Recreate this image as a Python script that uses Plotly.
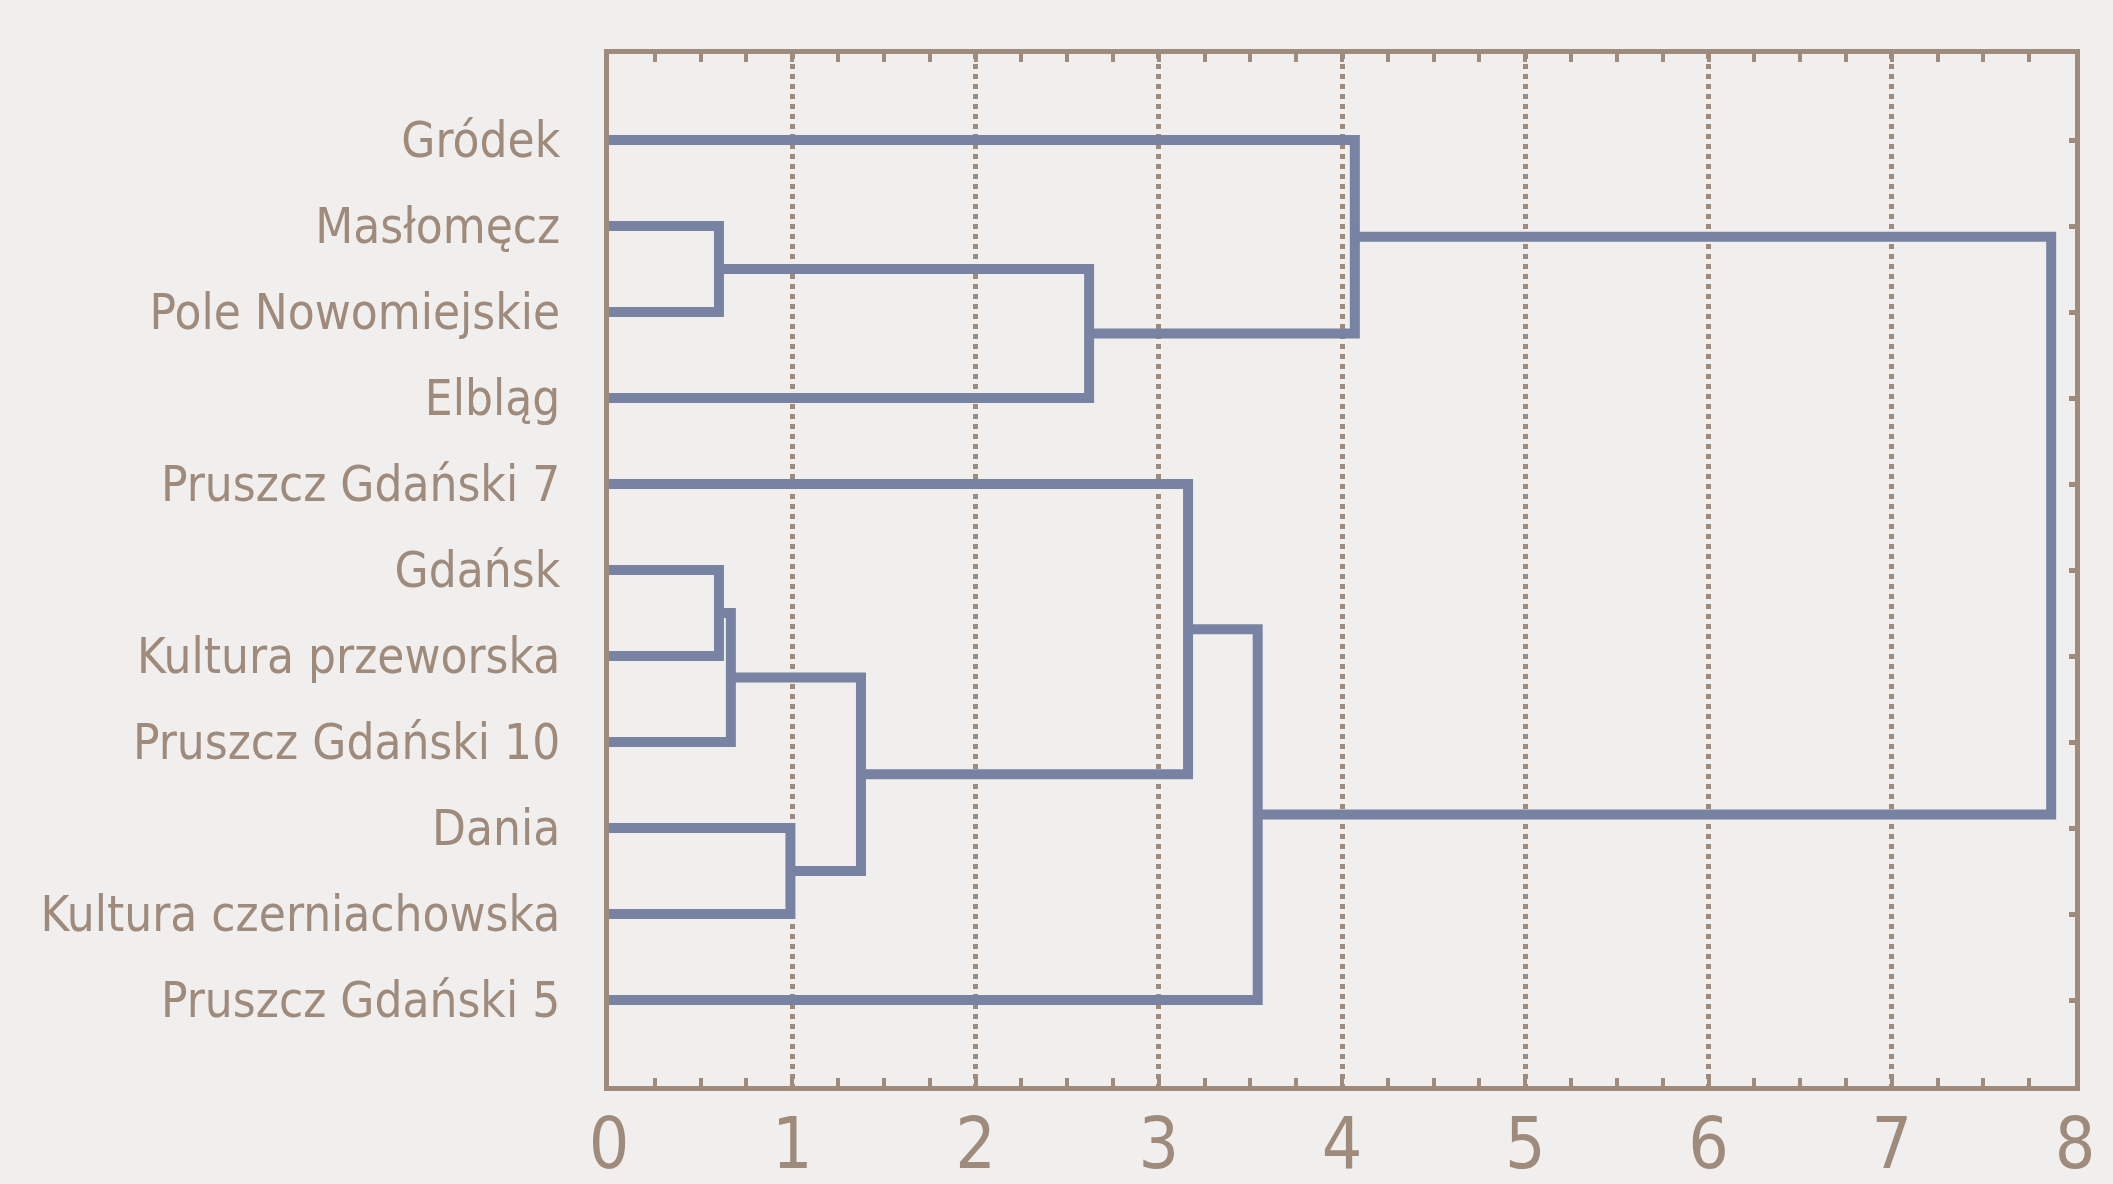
import plotly.graph_objects as go

labels = ["Gródek", "Masłomęcz", "Pole Nowomiejskie", "Elbląg", "Pruszcz Gdański 7",
          "Gdańsk", "Kultura przeworska", "Pruszcz Gdański 10", "Dania",
          "Kultura czerniachowska", "Pruszcz Gdański 5"]

# linkage: cluster ids >= len(labels) refer to earlier merges (scipy style)
merge_a = [1, 5, 12, 8, 13, 11, 4, 17, 0, 19]
merge_b = [2, 6, 7, 9, 14, 3, 15, 10, 16, 18]
merge_h = [0.60, 0.60, 0.665, 0.99, 1.375, 2.62, 3.16, 3.54, 4.07, 7.87]

x_ticks = [0, 1, 2, 3, 4, 5, 6, 7, 8]

BROWN = "#9f8b7c"
BLUE = "#7883a3"
BG = "#f1efed"
FONT = "DejaVu Sans Condensed, Liberation Sans Narrow, sans-serif"

n = len(labels)
pos_y = {i: float(i) for i in range(n)}
pos_h = {i: 0.0 for i in range(n)}
xs, ys = [], []
for k, (a, b, h) in enumerate(zip(merge_a, merge_b, merge_h)):
    xs += [pos_h[a], h, h, pos_h[b], None]
    ys += [pos_y[a], pos_y[a], pos_y[b], pos_y[b], None]
    pos_y[n + k] = (pos_y[a] + pos_y[b]) / 2
    pos_h[n + k] = h

fig = go.Figure()
fig.add_trace(go.Scatter(x=xs, y=ys, mode="lines",
                         line=dict(color=BLUE, width=10),
                         hoverinfo="skip", showlegend=False))
fig.add_trace(go.Scatter(x=[None], y=[None], yaxis="y2", mode="lines",
                         showlegend=False, hoverinfo="skip"))

fig.update_layout(
    width=2113, height=1184,
    margin=dict(l=609, r=38, t=54, b=98, autoexpand=False),
    paper_bgcolor=BG, plot_bgcolor=BG,
    font=dict(family=FONT, color=BROWN),
    xaxis=dict(range=[0, 8], tickvals=x_ticks, ticktext=[str(v) for v in x_ticks],
               showline=True, linecolor=BROWN, linewidth=5, mirror="allticks",
               ticks="inside", ticklen=8, tickwidth=4, tickcolor=BROWN,
               showgrid=True, gridcolor=BROWN, gridwidth=5, griddash="5px,5px",
               zeroline=False, tickfont=dict(size=71, color=BROWN),
               ticklabelstandoff=-8, automargin=False,
               minor=dict(dtick=0.25, ticks="inside", ticklen=8, tickwidth=4,
                          tickcolor=BROWN, showgrid=False)),
    yaxis=dict(range=[11, -1], tickvals=list(range(n)), ticktext=labels,
               showline=True, linecolor=BROWN, linewidth=5, mirror=True,
               ticks="", showgrid=False, zeroline=False, automargin=False,
               tickfont=dict(size=49, color=BROWN), ticklabelstandoff=34),
    yaxis2=dict(range=[11, -1], overlaying="y", side="right",
                tickvals=list(range(n)), showticklabels=False,
                ticks="inside", ticklen=6, tickwidth=5, tickcolor=BROWN,
                showline=False, showgrid=False, zeroline=False, automargin=False),
)

fig.write_html("out.html", config={"displayModeBar": False},
               post_script="document.body.style.margin='0';document.body.style.background='%s';" % BG)
